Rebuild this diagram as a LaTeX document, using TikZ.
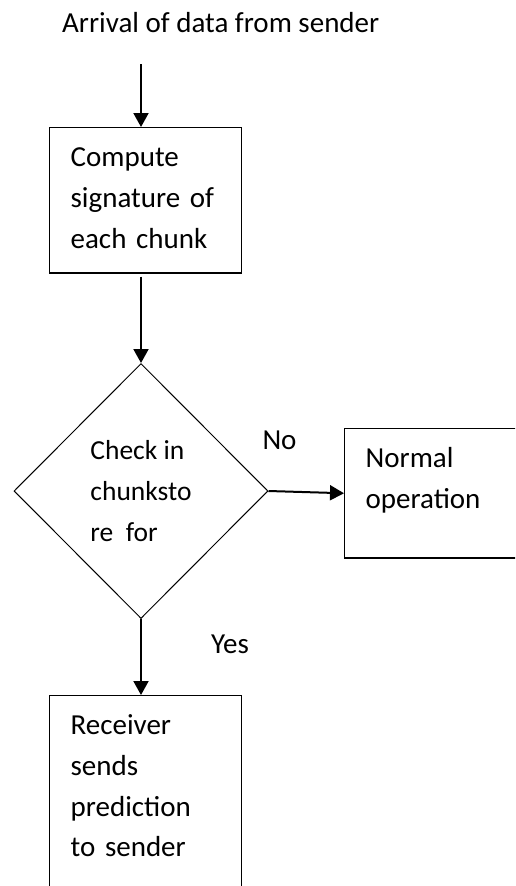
\documentclass[tikz,border=0pt]{standalone}
\usepackage{fontspec}
\setmainfont{Carlito}
\usetikzlibrary{arrows.meta, shapes.geometric}

\tikzset{
	flowbox/.style = {draw, line width=1.3pt, anchor=north west, align=left, inner xsep=21pt, inner ysep=20.5pt, text height=18.7pt, font=\fontsize{29}{40.7}\selectfont},
	decision/.style = {draw, diamond, line width=1pt, minimum width=254pt, minimum height=255pt, inner sep=0pt, align=left, font=\fontsize{27.5}{41}\selectfont},
	flowarrow/.style = {line width=2pt, -{Triangle[length=14pt, width=15pt]}},
	branch/.style = {inner sep=0pt, anchor=base west, font=\fontsize{29}{35}\selectfont}
}

\begin{document}
\begin{tikzpicture}[x=1pt, y=-1pt]
			\useasboundingbox (0,0) rectangle (515,886);
			\clip (0,0) rectangle (515,886);
			\node (title) [inner sep=0pt, anchor=base west, font=\fontsize{29}{35}\selectfont] at (62,32) {Arrival of data from sender};
			\coordinate (arrival) at (141,64);
			\node (compute) [flowbox, text width=150pt, text depth=85.5pt] at (49,127) {Compute\\signature of\\each chunk};
			\node (check) [decision] at (141,491) {Check in\\chunksto\\re~~for};
			\node (normal) [flowbox, text width=230pt, text depth=69.5pt] at (344,428) {Normal\\operation};
			\node (receiver) [flowbox, text width=150pt, text depth=159.5pt] at (49,695) {Receiver\\sends\\prediction\\to sender};

			\draw [flowarrow] (arrival) to (compute.north -| arrival);
			\draw [flowarrow, shorten <=3pt] (compute.south -| check.north) to (check.north);
			\draw [flowarrow] (check.east) to node [branch, pos=0, xshift=-7pt, yshift=42pt] {No} (normal.west);
			\draw [flowarrow] (check.south) to node [branch, pos=0.45, xshift=69pt] {Yes} (receiver.north -| check.south);
		\end{tikzpicture}
\end{document}
